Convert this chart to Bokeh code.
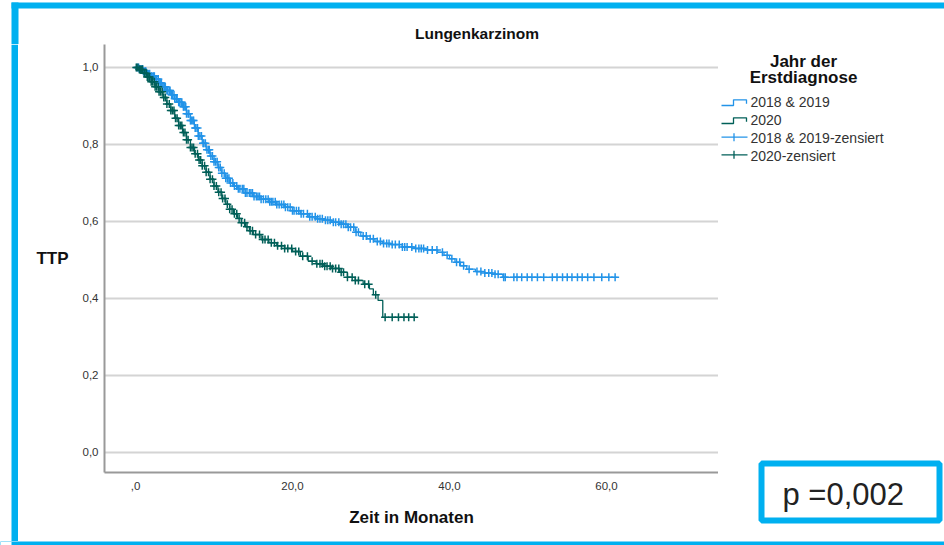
import numpy as np
from bokeh.plotting import figure
from bokeh.layouts import column, row
from bokeh.models import FixedTicker, Range1d
from bokeh.core.properties import value
from bokeh.embed import file_html
from bokeh.resources import INLINE

# ---------------- data ----------------
title_text = "Lungenkarzinom"
x_label = "Zeit in Monaten"
y_label = "TTP"
legend_title = ["Jahr der", "Erstdiagnose"]
series_names = ["2018 & 2019", "2020"]
p_text = "p =0,002"

x_ticks = [0, 20, 40, 60]
x_tick_labels = [",0", "20,0", "40,0", "60,0"]
y_ticks = [0.0, 0.2, 0.4, 0.6, 0.8, 1.0]
y_tick_labels = ["0,0", "0,2", "0,4", "0,6", "0,8", "1,0"]

# 2018 & 2019 : Kaplan-Meier step points (time in months, survival)
blue_t = [0, 0.5, 1, 1.5, 2, 2.5, 3, 3.5, 4, 4.5, 5, 5.5, 6, 6.5, 7, 7.5, 8, 8.5,
          9, 9.5, 10, 10.5, 11, 11.5, 12, 12.5, 13, 14, 15, 16, 17, 18, 19, 20,
          21, 22, 23, 24, 25, 26, 27, 28, 28.7, 29.5, 30.5, 31.5, 32.5, 34, 35.5,
          37, 38.5, 39.3, 40, 40.7, 41.4, 42.2, 43.3, 44.5, 45.5, 46.8, 61.4]
blue_s = [1.0, 0.996, 0.99, 0.984, 0.977, 0.97, 0.96, 0.95, 0.94, 0.929, 0.919,
          0.91, 0.898, 0.88, 0.862, 0.843, 0.822, 0.803, 0.786, 0.77, 0.755, 0.74,
          0.725, 0.712, 0.70, 0.692, 0.685, 0.674, 0.665, 0.658, 0.651, 0.644,
          0.637, 0.628, 0.62, 0.612, 0.607, 0.603, 0.598, 0.593, 0.585, 0.572,
          0.562, 0.555, 0.548, 0.543, 0.54, 0.534, 0.53, 0.526, 0.52, 0.512,
          0.503, 0.494, 0.485, 0.476, 0.47, 0.466, 0.463, 0.455, 0.455]
blue_cens = [0.2, 0.4, 0.5, 0.7, 0.9, 1.0, 1.2, 1.3, 1.5, 1.6, 1.8, 2.0, 2.1, 2.3,
             2.4, 2.6, 2.7, 2.9, 3.0, 3.2, 3.3, 3.5, 3.7, 3.8, 4.0, 4.1, 4.3, 4.4,
             4.6, 4.7, 4.9, 5.0, 5.2, 5.3, 5.5, 5.6, 5.8, 5.9, 6.1, 6.2, 6.4, 6.5,
             6.7, 6.8, 7.0, 7.1, 7.3, 7.4, 7.6, 7.7, 7.9, 8.0, 8.2, 8.4, 8.6, 8.7,
             8.9, 9.1, 9.3, 9.4, 9.6, 9.8, 10.0, 10.2, 10.4, 10.6, 10.8, 11.0,
             11.3, 11.5, 11.7, 11.9, 12.1, 12.4, 12.6, 12.9, 13.1, 13.3, 13.6,
             13.8, 14.0, 14.2, 14.5, 14.7, 14.9, 15.1, 15.4, 15.6, 15.8, 16.0,
             16.3, 16.6, 16.9, 17.1, 17.3, 17.5, 17.8, 18.0, 18.3, 18.6, 18.9,
             19.1, 19.4, 19.7, 20.0, 20.2, 20.5, 20.8, 21.1, 21.4, 21.9, 22.2,
             22.5, 22.9, 23.2, 23.5, 23.8, 24.2, 24.5, 24.8, 25.2, 25.5, 25.9,
             26.2, 26.5, 26.8, 27.1, 27.4, 27.8, 28.1, 28.4, 29.0, 29.4, 29.9,
             30.3, 30.8, 31.2, 31.6, 32.0, 32.3, 32.7, 33.1, 33.6, 34.0, 34.3,
             34.6, 35.2, 35.7, 36.1, 36.4, 36.7, 37.2, 37.8, 38.4, 39.1, 39.7,
             40.3, 40.9, 41.3, 41.8, 42.5, 43.5, 44.0, 44.5, 45.0, 45.4, 45.8,
             46.2, 46.9, 47.1, 48.2, 48.6, 49.2, 49.9, 50.5, 51.2, 52.0, 53.1,
             53.7, 54.4, 55.0, 55.6, 56.3, 56.9, 57.6, 58.4, 59.4, 60.3, 61.1]

# 2020
green_t = [0, 0.5, 1, 1.5, 2, 2.5, 3, 3.5, 4, 4.5, 5, 5.5, 6, 6.5, 7, 7.5, 8, 8.5,
           9, 9.5, 10, 10.5, 11, 11.5, 12, 12.5, 13, 13.5, 14, 14.5, 15, 16, 17,
           18, 19, 20, 21, 22, 23, 24, 25, 26, 27, 28, 29, 29.8, 30.3, 30.9, 31.5,
           35.9]
green_s = [1.0, 0.995, 0.985, 0.975, 0.963, 0.95, 0.937, 0.922, 0.905, 0.888,
           0.868, 0.849, 0.831, 0.812, 0.792, 0.776, 0.76, 0.745, 0.728, 0.71,
           0.692, 0.676, 0.66, 0.645, 0.632, 0.62, 0.608, 0.597, 0.586, 0.576,
           0.566, 0.553, 0.545, 0.537, 0.53, 0.522, 0.51, 0.497, 0.49, 0.484,
           0.478, 0.468, 0.455, 0.447, 0.437, 0.425, 0.41, 0.395, 0.351, 0.351]
green_cens = [0.1, 0.3, 0.5, 0.6, 0.8, 0.9, 1.1, 1.2, 1.4, 1.5, 1.7, 1.8, 2.0, 2.2,
              2.4, 2.5, 2.7, 2.9, 3.0, 3.2, 3.4, 3.6, 3.8, 4.0, 4.3, 4.5, 4.7,
              4.9, 5.1, 5.3, 5.5, 5.7, 5.9, 6.1, 6.3, 6.5, 6.7, 7.0, 7.2, 7.4,
              7.6, 7.9, 8.1, 8.3, 8.5, 8.8, 9.0, 9.3, 9.5, 9.8, 10.0, 10.3, 10.6,
              10.9, 11.1, 11.4, 11.7, 12.0, 12.3, 12.6, 12.9, 13.2, 13.5, 13.9,
              14.2, 14.6, 14.9, 15.3, 15.8, 16.2, 16.5, 16.9, 17.3, 17.7, 18.1,
              18.6, 19.0, 19.4, 19.9, 20.4, 20.8, 21.3, 21.9, 22.5, 23.1, 23.5,
              23.8, 24.1, 24.4, 24.8, 25.1, 25.5, 25.9, 26.2, 26.5, 27.0, 27.6,
              28.0, 28.4, 29.2, 29.7, 30.6, 31.8, 32.7, 33.5, 34.2, 34.8, 35.5]

BLUE = "#2293e8"
GREEN = "#005f58"
FRAME_BLUE = "#00b0f0"
FONT = "Liberation Sans"


def censor_y(t, s, c):
    t = np.asarray(t)
    s = np.asarray(s)
    idx = np.searchsorted(t, np.asarray(c), side="right") - 1
    return s[np.clip(idx, 0, len(s) - 1)]


def blank(w, h, x0, x1, y0, y1, bg="white"):
    """figure whose frame fills the whole canvas; ranges map to page pixels"""
    f = figure(width=w, height=h, output_backend="svg", toolbar_location=None,
               x_range=Range1d(x0, x1), y_range=Range1d(y1, y0),
               x_axis_location=None, y_axis_location=None, min_border=0,
               frame_align=False)
    f.grid.visible = False
    f.outline_line_color = None
    f.background_fill_color = bg
    f.border_fill_color = bg
    return f


# ---------------- top strip: border + title ----------------
top = blank(944, 44, 0, 944, 0, 44)
top.quad(left=[11], right=[944], top=[2], bottom=[8], fill_color=FRAME_BLUE,
         line_color=None)
top.quad(left=[11], right=[18], top=[2], bottom=[44], fill_color=FRAME_BLUE,
         line_color=None)
top.text(x=[476.5], y=[32.5], text=[title_text], text_font=value(FONT),
         text_font_size="15.5px", text_font_style="bold", text_color="#111111",
         text_align="center", text_baseline="alphabetic")

# ---------------- left strip ----------------
left = blank(18, 497, 0, 18, 44, 541)
left.quad(left=[11], right=[18], top=[44], bottom=[541], fill_color=FRAME_BLUE,
          line_color=None)

# ---------------- main plot ----------------
p = figure(width=700, height=497, output_backend="svg", toolbar_location=None,
           x_range=Range1d(-3.95, 74.27), y_range=Range1d(-0.052, 1.0597),
           min_border_left=86, min_border_right=0, min_border_top=0,
           min_border_bottom=69, frame_align=False)
p.outline_line_color = None
p.background_fill_color = "white"
p.border_fill_color = "white"

for ax in (p.xaxis[0], p.yaxis[0]):
    ax.axis_line_color = "#999999"
    ax.axis_line_width = 2
    ax.major_tick_line_color = None
    ax.minor_tick_line_color = None
    ax.major_tick_out = 0
    ax.major_tick_in = 0
    ax.minor_tick_out = 0
    ax.minor_tick_in = 0
    ax.major_label_text_font = FONT
    ax.major_label_text_font_size = "11.5px"
    ax.major_label_text_color = "#333333"
    ax.axis_label_text_font = FONT
    ax.axis_label_text_font_size = "17px"
    ax.axis_label_text_font_style = "bold"
    ax.axis_label_text_color = "#111111"

p.xaxis.ticker = FixedTicker(ticks=x_ticks)
p.xaxis.major_label_overrides = dict(zip(x_ticks, x_tick_labels))
p.yaxis.ticker = FixedTicker(ticks=y_ticks)
p.yaxis.major_label_overrides = dict(zip(y_ticks, y_tick_labels))
p.xaxis.axis_label = x_label
p.yaxis.axis_label = y_label
p.yaxis.axis_label_orientation = "horizontal"
p.xaxis.major_label_standoff = 9
p.xaxis.axis_label_standoff = 15
p.yaxis.major_label_standoff = 6
p.yaxis.axis_label_standoff = 11

p.xgrid.grid_line_color = None
p.ygrid.grid_line_color = "#d4d4d4"
p.ygrid.grid_line_width = 2

p.step(blue_t, blue_s, mode="after", line_color=BLUE, line_width=1.3)
p.step(green_t, green_s, mode="after", line_color=GREEN, line_width=1.3)
p.scatter(blue_cens, censor_y(blue_t, blue_s, blue_cens), marker="cross",
          size=8, line_color=BLUE, line_width=1.5)
p.scatter(green_cens, censor_y(green_t, green_s, green_cens), marker="cross",
          size=8, line_color=GREEN, line_width=1.5)

# ---------------- right side: legend + p value ----------------
r = blank(226, 497, 718, 944, 44, 541)
r.text(x=[803, 803], y=[60.7, 77.3], text=legend_title, text_font=value(FONT),
       text_font_size="17px", text_font_style="bold", text_color="#111111",
       text_align="center", text_baseline="alphabetic")
entry_base = [106.7, 124.7, 142.7, 160.3]
entry_text = [series_names[0], series_names[1], series_names[0] + "-zensiert",
              series_names[1] + "-zensiert"]
r.text(x=[750] * 4, y=[b - 5 for b in entry_base], text=entry_text,
       text_font=value(FONT), text_font_size="14px", text_color="#333333",
       text_align="left", text_baseline="alphabetic")
for col, b in ((BLUE, entry_base[0]), (GREEN, entry_base[1])):
    r.line([721, 733, 733, 746, 746], [b - 1.7, b - 1.7, b - 7.4, b - 7.4, b - 3.4],
           line_color=col, line_width=1.3)
for col, b in ((BLUE, entry_base[2]), (GREEN, entry_base[3])):
    r.segment(x0=[721, 733.5], y0=[b - 6, b - 10], x1=[747, 733.5], y1=[b - 6, b - 2],
              line_color=col, line_width=1.3)
r.quad(left=[761], right=[939], top=[463], bottom=[520], fill_color=None,
       line_color=FRAME_BLUE, line_width=6)
r.text(x=[782], y=[494], text=[p_text], text_font=value(FONT),
       text_font_size="31px", text_color="#222222", text_align="left",
       text_baseline="alphabetic")

# ---------------- bottom strip ----------------
bottom = blank(944, 12, 0, 944, 541, 553, bg=FRAME_BLUE)
bottom.quad(left=[0], right=[11], top=[541], bottom=[553], fill_color="white",
            line_color=None)

layout = column(top, row(left, p, r), bottom)
open("out.html", "w").write(file_html(layout, INLINE))
